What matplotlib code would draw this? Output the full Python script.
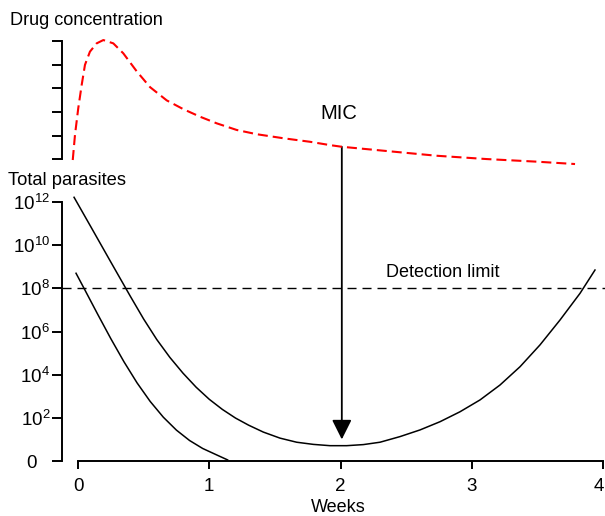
import matplotlib
matplotlib.use('Agg')
import matplotlib.pyplot as plt
from matplotlib.transforms import ScaledTranslation

plt.rcParams['font.family'] = ['Liberation Sans', 'DejaVu Sans']
plt.rcParams['mathtext.fontset'] = 'custom'
plt.rcParams['mathtext.rm'] = 'Liberation Sans'
plt.rcParams['mathtext.it'] = 'Liberation Sans:italic'
plt.rcParams['mathtext.bf'] = 'Liberation Sans:bold'

# weeks / log10(total parasites)
weeks_high = [-0.030, 0.10, 0.25, 0.40, 0.50, 0.60, 0.70, 0.80, 0.90, 1.00,
              1.10, 1.20, 1.30, 1.412, 1.539, 1.666, 1.793, 1.920, 2.047, 2.174,
              2.301, 2.453, 2.606, 2.758, 2.910, 3.063, 3.215, 3.368, 3.520, 3.672,
              3.825, 3.939]
log_high = [12.22, 10.83, 9.22, 7.62, 6.58, 5.63, 4.80, 4.07, 3.42, 2.86,
            2.39, 1.99, 1.66, 1.34, 1.06, 0.87, 0.77, 0.71, 0.71, 0.76,
            0.87, 1.13, 1.44, 1.82, 2.28, 2.83, 3.52, 4.37, 5.38, 6.53,
            7.77, 8.85]

weeks_low = [-0.015, 0.053, 0.15, 0.25, 0.35, 0.45, 0.55, 0.65, 0.75, 0.85,
             0.95, 1.05, 1.14]
log_low = [8.70, 7.92, 6.80, 5.67, 4.60, 3.62, 2.76, 2.03, 1.43, 0.95,
           0.58, 0.30, 0.05]

# drug concentration (arbitrary units)
weeks_drug = [-0.04, -0.023, 0.002, 0.028, 0.053, 0.091, 0.142, 0.193, 0.269, 0.345,
              0.447, 0.549, 0.676, 0.802, 0.930, 1.057, 1.209, 1.362, 1.564, 1.768,
              1.920, 2.009, 2.352, 2.733, 3.114, 3.495, 3.787]
drug_conc = [-0.03, 1.03, 2.16, 3.14, 3.99, 4.55, 4.90, 5.04, 4.90, 4.48,
             3.72, 3.05, 2.49, 2.12, 1.80, 1.52, 1.24, 1.06, 0.89, 0.74,
             0.60, 0.53, 0.35, 0.15, 0.01, -0.10, -0.20]

detection_log = 8
mic_week = 2.01
mic_conc = 0.53
arrow_tip_log = 1.0

week_ticks = [0, 1, 2, 3, 4]
log_ticks = [0, 2, 4, 6, 8, 10, 12]
log_labels = ['0', r'$10^{2}$', r'$10^{4}$', r'$10^{6}$', r'$10^{8}$', r'$10^{10}$', r'$10^{12}$']
conc_ticks = [0, 1, 2, 3, 4, 5]

W, H = 605, 516


def box(l, t, r, b):
    return [l / W, 1 - b / H, (r - l) / W, (b - t) / H]


fig = plt.figure(figsize=(W / 100, H / 100), dpi=100)
ax = fig.add_axes(box(62, 185, 605, 461))
axd = fig.add_axes(box(62, 30, 605, 170))
for a in (ax, axd):
    a.set_facecolor('none')
    a.set_xlim(-16 / 131.25, 527 / 131.25)
    a.spines['top'].set_visible(False)
    a.spines['right'].set_visible(False)
    for s in a.spines.values():
        s.set_linewidth(1.4)

ax.set_ylim(0, 276 / 21.58)
axd.set_ylim(-10.7 / 23.66, 129.3 / 23.66)

# parasite curves
ax.plot(weeks_high, log_high, color='k', lw=1.1, clip_on=False, solid_joinstyle='round')
ax.plot(weeks_low, log_low, color='k', lw=1.1, clip_on=False, solid_joinstyle='round')
ax.axhline(detection_log, color='k', lw=1.0, dashes=(6.5, 4.3))
ax.text(2.347, 8.54, 'Detection limit', fontsize=13)

ax.spines['left'].set_bounds(0, 12)
ax.spines['bottom'].set_bounds(0, 4)
ax.set_yticks(log_ticks)
ax.set_yticklabels(log_labels)
ax.set_xticks(week_ticks)
ax.set_xticklabels([str(w) for w in week_ticks])
ax.tick_params(axis='y', direction='out', length=7, width=1.4, pad=1.5, labelsize=13.5)
ax.tick_params(axis='x', direction='out', length=5.5, width=1.4, pad=7, labelsize=13.5)
zero_lab = ax.get_yticklabels()[0]
zero_lab.set_transform(zero_lab.get_transform() + ScaledTranslation(-0.13, 0, fig.dpi_scale_trans))
last_lab = ax.get_xticklabels()[-1]
last_lab.set_transform(last_lab.get_transform() + ScaledTranslation(-0.04, 0, fig.dpi_scale_trans))

# drug concentration
axd.plot(weeks_drug, drug_conc, color='#ff0000', lw=1.5, dashes=(4.8, 2.4), clip_on=False)
axd.spines['bottom'].set_visible(False)
axd.spines['left'].set_bounds(0, 5)
axd.set_xticks([])
axd.set_yticks(conc_ticks)
axd.set_yticklabels([])
axd.tick_params(axis='y', direction='out', length=7, width=1.4)
axd.text(1.844, 1.70, 'MIC', fontsize=14.5)

ax.annotate('', xy=(mic_week, arrow_tip_log), xytext=(mic_week, mic_conc),
            textcoords=axd.transData, annotation_clip=False,
            arrowprops=dict(arrowstyle='-|>,head_length=0.4,head_width=0.2',
                            mutation_scale=30, lw=1.3, color='k',
                            shrinkA=0, shrinkB=0))

fig.text(10 / W, 1 - 25 / H, 'Drug concentration', fontsize=13.1, va='baseline')
fig.text(8 / W, 1 - 185 / H, 'Total parasites', fontsize=13.2, va='baseline')
fig.text(338 / W, 1 - 512 / H, 'Weeks', fontsize=13, va='baseline', ha='center')

fig.savefig('out.png', dpi=100)
